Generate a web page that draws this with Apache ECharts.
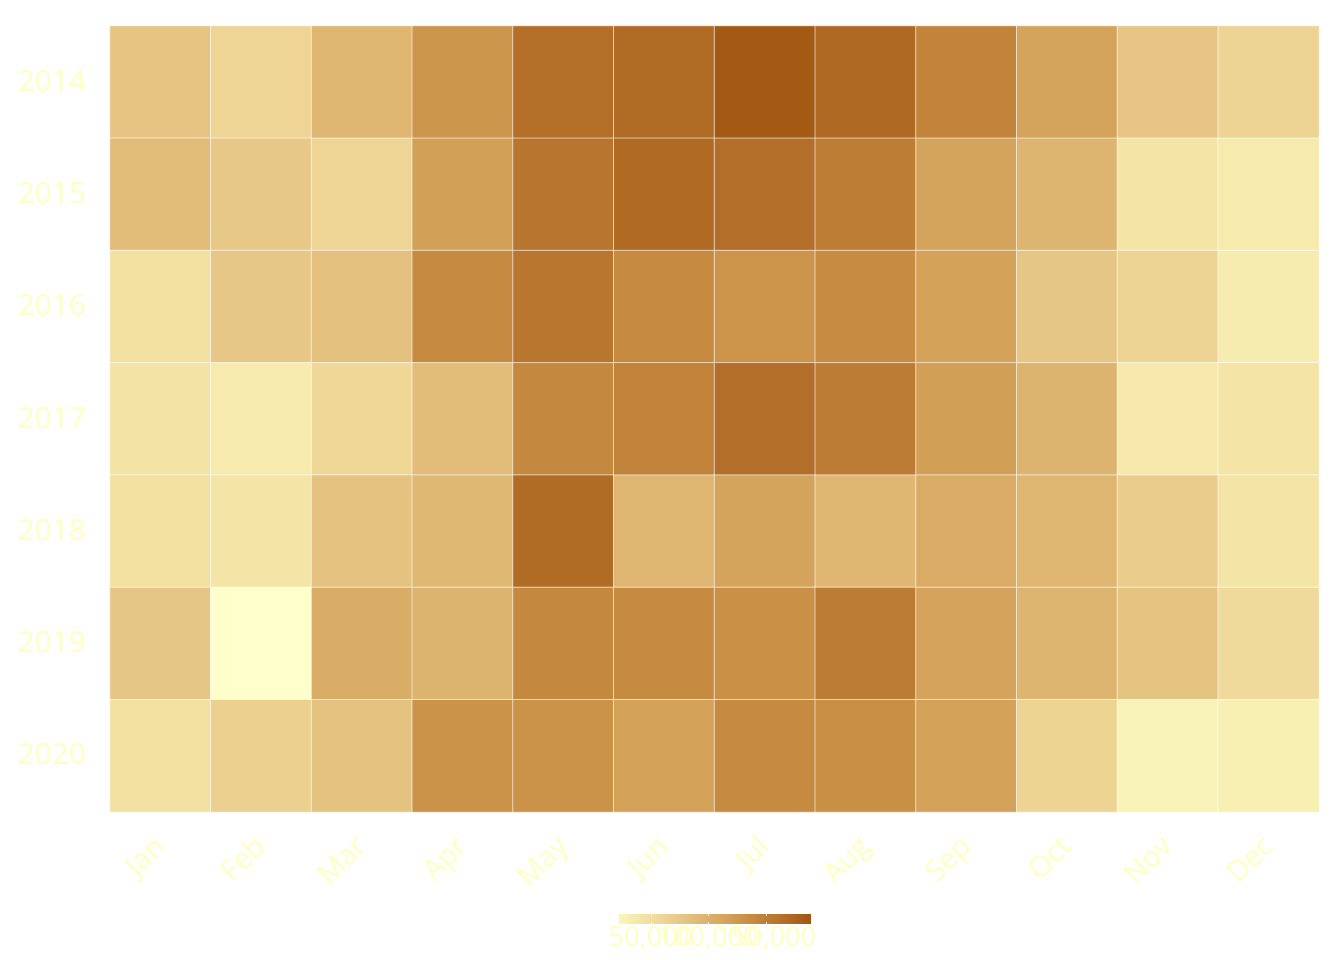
<!DOCTYPE html>
<html>
<head>
<meta charset="utf-8">
<title>Monthly heatmap</title>
<style>
  html, body { margin: 0; padding: 0; background: #ffffff; }
  #main { width: 1344px; height: 960px; }
</style>
</head>
<body>
<div id="main"></div>
<script src="https://cdn.jsdelivr.net/npm/echarts@6/dist/echarts.min.js"></script>
<script>
// categories
var months = ['Jan', 'Feb', 'Mar', 'Apr', 'May', 'Jun', 'Jul', 'Aug', 'Sep', 'Oct', 'Nov', 'Dec'];
var years = ['2014', '2015', '2016', '2017', '2018', '2019', '2020'];

// values per year
var v2014 = [79000, 61000, 95000, 127000, 166000, 169000, 186000, 171000, 145000, 114000, 77000, 62000];
var v2015 = [87000, 75000, 61000, 118000, 159000, 170000, 165000, 151000, 114000, 96000, 42000, 35000];
var v2016 = [48000, 76000, 84000, 138000, 158000, 138000, 128000, 137000, 116000, 78000, 62000, 33000];
var v2017 = [44000, 36000, 59000, 87000, 141000, 146000, 165000, 152000, 119000, 97000, 37000, 42000];
var v2018 = [48000, 43000, 82000, 93000, 169000, 95000, 114000, 94000, 106000, 95000, 71000, 42000];
var v2019 = [78000, 10000, 104000, 97000, 141000, 138000, 133000, 152000, 115000, 96000, 80000, 55000];
var v2020 = [48000, 67000, 82000, 131000, 131000, 117000, 138000, 134000, 117000, 63000, 25000, 30000];

// colour scale
var scaleMin = 10000;
var scaleMax = 190000;
var scaleColors = ['#ffffcc', '#f6eaac', '#eed595', '#e2bd7a', '#d6a55d', '#c68a40', '#b4702a', '#a0560f'];

// legend
var legendMin = 22500;
var legendMax = 189000;
var legendTicks = [50000, 100000, 150000];

var rows = [v2014, v2015, v2016, v2017, v2018, v2019, v2020];
var data = [];
rows.forEach(function (row, y) {
  row.forEach(function (val, x) {
    data.push([x, y, val]);
  });
});

var textColor = '#ffffc2';
var fontFam = '"Open Sans", "Noto Sans", sans-serif';

function colorAt(v) {
  var t = (v - scaleMin) / (scaleMax - scaleMin) * (scaleColors.length - 1);
  t = Math.max(0, Math.min(scaleColors.length - 1, t));
  var i = Math.min(Math.floor(t), scaleColors.length - 2);
  var f = t - i;
  return echarts.color.lerp(f, [scaleColors[i], scaleColors[i + 1]]);
}

// legend bar geometry
var lgX = 619, lgY = 914, lgW = 192, lgH = 10;
function legendX(v) {
  return lgX + (v - legendMin) / (legendMax - legendMin) * lgW;
}

var stops = [];
for (var k = 0; k <= 20; k++) {
  var vv = legendMin + (legendMax - legendMin) * k / 20;
  stops.push({ offset: k / 20, color: colorAt(vv) });
}

var graphics = [{
  type: 'rect',
  shape: { x: lgX, y: lgY, width: lgW, height: lgH },
  style: { fill: new echarts.graphic.LinearGradient(0, 0, 1, 0, stops) },
  silent: true
}];
legendTicks.forEach(function (t) {
  var x = Math.round(legendX(t)) + 0.5;
  graphics.push({
    type: 'line',
    shape: { x1: x, y1: lgY, x2: x, y2: lgY + 2 },
    style: { stroke: 'rgba(255,255,255,0.8)', lineWidth: 1 },
    silent: true
  });
  graphics.push({
    type: 'line',
    shape: { x1: x, y1: lgY + lgH - 2, x2: x, y2: lgY + lgH },
    style: { stroke: 'rgba(255,255,255,0.8)', lineWidth: 1 },
    silent: true
  });
  graphics.push({
    type: 'text',
    x: legendX(t),
    y: lgY + lgH + 1,
    style: {
      text: t.toLocaleString('en-US'),
      fill: textColor,
      font: '27px ' + fontFam,
      align: 'center',
      verticalAlign: 'top'
    },
    silent: true
  });
});

var myChart = echarts.init(document.getElementById('main'));

var option = {
  animation: false,
  backgroundColor: '#ffffff',
  grid: {
    left: 110,
    right: 25,
    top: 26,
    bottom: 148
  },
  xAxis: {
    type: 'category',
    data: months,
    axisLine: { show: false },
    axisTick: { show: false },
    splitLine: { show: false },
    axisLabel: {
      rotate: 45,
      margin: 30,
      color: textColor,
      fontSize: 29,
      fontFamily: fontFam
    }
  },
  yAxis: {
    type: 'category',
    data: years,
    inverse: true,
    axisLine: { show: false },
    axisTick: { show: false },
    splitLine: { show: false },
    axisLabel: {
      margin: 24,
      color: textColor,
      fontSize: 30,
      fontFamily: fontFam
    }
  },
  visualMap: {
    show: false,
    type: 'continuous',
    min: scaleMin,
    max: scaleMax,
    dimension: 2,
    inRange: { color: scaleColors }
  },
  series: [{
    type: 'heatmap',
    data: data,
    itemStyle: {
      borderColor: 'rgba(255,255,255,0.6)',
      borderWidth: 1
    }
  }],
  graphic: graphics
};
myChart.setOption(option);
</script>
</body>
</html>
